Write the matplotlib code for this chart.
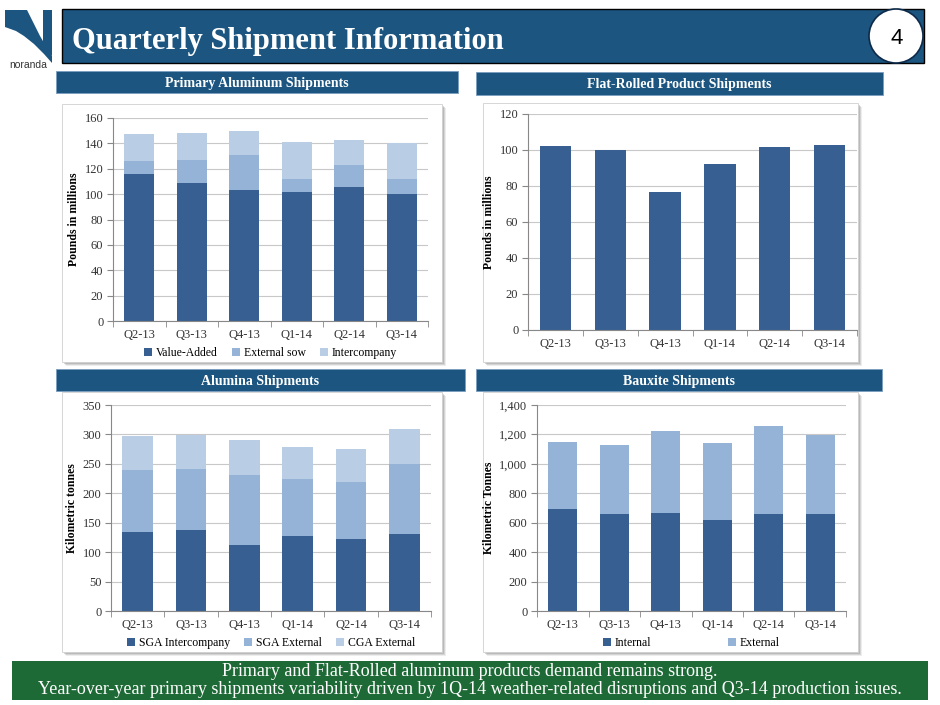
import numpy as np
import matplotlib
matplotlib.use("Agg")
import matplotlib.pyplot as plt
from matplotlib.patches import Rectangle, Ellipse, Polygon

quarters = ["Q2-13", "Q3-13", "Q4-13", "Q1-14", "Q2-14", "Q3-14"]

# primary aluminum, pounds in millions
prim_value_added = [116, 109, 103, 102, 106, 100]
prim_external_sow = [10, 18, 28, 10, 17, 12]
prim_intercompany = [21, 21, 19, 29, 20, 28]

# flat-rolled, pounds in millions
flat_rolled = [102, 100, 76.5, 92, 101.5, 103]

# alumina, kilometric tonnes
alu_sga_interco = [134, 138, 112, 127, 122, 130]
alu_sga_external = [106, 104, 119, 97, 97, 119]
alu_cga_external = [57, 57, 59, 54, 56, 60]

# bauxite, kilometric tonnes
baux_internal = [690, 660, 665, 620, 660, 660]
baux_external = [458, 465, 555, 522, 595, 538]

DARK = "#375f91"
MID = "#95b3d7"
LIGHT = "#b9cde5"
NAVY = "#1b5580"
GREEN = "#1e6a36"
SERIF = "Liberation Serif"

W, H = 940, 705
fig = plt.figure(figsize=(9.4, 7.05), dpi=100)


def box(x0, y0, x1, y1):
    # pixel box (top-left origin) -> figure fraction rect
    return [x0 / W, 1 - y1 / H, (x1 - x0) / W, (y1 - y0) / H]


def rect(x0, y0, x1, y1, **kw):
    l, b, w, h = box(x0, y0, x1, y1)
    kw.setdefault("zorder", -5)
    fig.patches.append(Rectangle((l, b), w, h, transform=fig.transFigure, **kw))


def ftext(x, y, s, **kw):
    fig.text(x / W, 1 - y / H, s, **kw)


# logo
logo = [
    [(5, 10), (16, 10), (16, 31), (5, 27)],
    [(16, 10), (27, 10), (33, 22), (40, 36), (47, 48), (52, 56), (52, 63),
     (44, 54), (34, 44), (24, 36), (16, 31)],
    [(43, 10), (52, 10), (52, 56), (43, 46)],
]
for pts in logo:
    fig.patches.append(Polygon([(px / W, 1 - py / H) for px, py in pts], closed=True,
                               transform=fig.transFigure, fc=NAVY, ec="none", zorder=-5))
ftext(28, 65, "noranda", ha="center", va="center", fontsize=7.5,
      family="Liberation Sans", color="#333333")

# title banner
rect(62, 9, 924, 63, fc=NAVY, ec="black", lw=1.0)
ftext(72, 41, "Quarterly Shipment Information", ha="left", va="center",
      fontsize=22, family=SERIF, fontweight="bold", color="white")
fig.patches.append(Ellipse((896 / W, 1 - 36 / H), 54 / W, 54 / H, transform=fig.transFigure,
                           fc="white", ec="#0d2a4a", lw=1.2, zorder=-4))
ftext(897, 38, "4", ha="center", va="center", fontsize=16,
      family="Liberation Sans", color="black")

# section headers
headers = [
    ("Primary Aluminum Shipments", (56, 71, 458, 93)),
    ("Flat-Rolled Product Shipments", (476, 72, 883, 95)),
    ("Alumina Shipments", (56, 369, 465, 391)),
    ("Bauxite Shipments", (476, 369, 882, 391)),
]
for label, (x0, y0, x1, y1) in headers:
    rect(x0, y0, x1, y1, fc=NAVY, ec="#7a9cc0", lw=0.6)
    ftext((x0 + x1) / 2, (y0 + y1) / 2 + 1, label, ha="center", va="center",
          fontsize=10, family=SERIF, fontweight="bold", color="white")

# chart panels with a soft shadow
panels = [(62, 104, 442, 362), (483, 103, 858, 362),
          (62, 392, 442, 652), (483, 392, 858, 652)]
for x0, y0, x1, y1 in panels:
    for k, a in zip((4, 3, 2), (0.15, 0.25, 0.35)):
        rect(x0 + k, y0 + k, x1 + k, y1 + k, fc="#8c8c8c", ec="none", alpha=a)
    rect(x0, y0, x1, y1, fc="white", ec="#d0d0d0", lw=0.6)

# footer
rect(12, 661, 928, 700, fc=GREEN, ec="none")
ftext(470, 671, "Primary and Flat-Rolled aluminum products demand remains strong.",
      ha="center", va="center", fontsize=13, family=SERIF, color="white")
ftext(470, 690, "Year-over-year primary shipments variability driven by 1Q-14 "
      "weather-related disruptions and Q3-14 production issues.",
      ha="center", va="center", fontsize=13, family=SERIF, color="white")


def style_axes(ax, ymax, step, ylabel, fmt=None):
    n = len(quarters)
    ax.set_xlim(-0.5, n - 0.5)
    ax.set_ylim(0, ymax)
    ticks = np.arange(0, ymax + step / 2, step)
    ax.set_yticks(ticks)
    if fmt:
        ax.set_yticklabels([fmt(t) for t in ticks])
    ax.set_xticks(range(n))
    ax.set_xticklabels(quarters)
    ax.set_xticks(np.arange(-0.5, n, 1.0), minor=True)
    ax.tick_params(axis="x", which="major", length=0, pad=6)
    ax.tick_params(axis="x", which="minor", length=4, color="#888888")
    ax.tick_params(axis="y", length=4, color="#888888", pad=3)
    for lab in ax.get_xticklabels() + ax.get_yticklabels():
        lab.set_family(SERIF)
        lab.set_fontsize(9)
        lab.set_color("#333333")
    ax.grid(axis="y", color="#c8c8c8", lw=0.8)
    ax.set_axisbelow(True)
    for s in ("top", "right"):
        ax.spines[s].set_visible(False)
    for s in ("left", "bottom"):
        ax.spines[s].set_color("#888888")
    ax.set_ylabel(ylabel, family=SERIF, fontweight="bold", fontsize=8.5, labelpad=3)
    ax.patch.set_alpha(0)


def legend(ax, handles, labels, y, gap=1.2):
    ax.legend(handles, labels, loc="upper center", bbox_to_anchor=(0.5, y), ncol=len(labels),
              frameon=False, prop={"family": SERIF, "size": 8.5}, handlelength=0.7,
              handleheight=0.7, handletextpad=0.3, columnspacing=gap, borderaxespad=0)


x = np.arange(len(quarters))
bw = 0.57

# primary aluminum
ax1 = fig.add_axes(box(113, 118, 428, 321))
b1 = ax1.bar(x, prim_value_added, bw, color=DARK)
b2 = ax1.bar(x, prim_external_sow, bw, bottom=prim_value_added, color=MID)
bot = np.add(prim_value_added, prim_external_sow)
b3 = ax1.bar(x, prim_intercompany, bw, bottom=bot, color=LIGHT)
style_axes(ax1, 160, 20, "Pounds in millions")
legend(ax1, [b1, b2, b3], ["Value-Added", "External sow", "Intercompany"], -0.105)

# flat-rolled
ax2 = fig.add_axes(box(528, 114, 857, 330))
ax2.bar(x, flat_rolled, bw, color=DARK)
style_axes(ax2, 120, 20, "Pounds in millions")

# alumina
ax3 = fig.add_axes(box(111, 405, 431, 611))
c1 = ax3.bar(x, alu_sga_interco, bw, color=DARK)
c2 = ax3.bar(x, alu_sga_external, bw, bottom=alu_sga_interco, color=MID)
bot = np.add(alu_sga_interco, alu_sga_external)
c3 = ax3.bar(x, alu_cga_external, bw, bottom=bot, color=LIGHT)
style_axes(ax3, 350, 50, "Kilometric tonnes")
legend(ax3, [c1, c2, c3], ["SGA Intercompany", "SGA External", "CGA External"], -0.105)

# bauxite
ax4 = fig.add_axes(box(537, 405, 846, 611))
d1 = ax4.bar(x, baux_internal, bw, color=DARK)
d2 = ax4.bar(x, baux_external, bw, bottom=baux_internal, color=MID)
style_axes(ax4, 1400, 200, "Kilometric Tonnes", fmt=lambda t: f"{int(t):,}")
legend(ax4, [d1, d2], ["Internal", "External"], -0.105, gap=6.5)

fig.savefig("out.png", dpi=100)
